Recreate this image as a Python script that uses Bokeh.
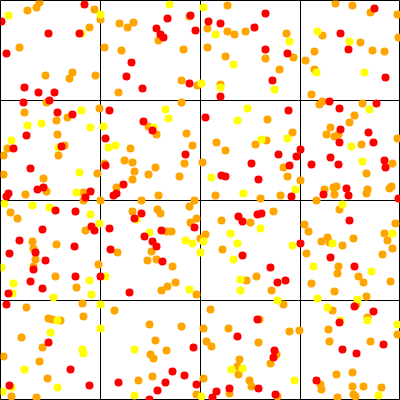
from bokeh.plotting import figure
from bokeh.models import Range1d, FixedTicker
from bokeh.embed import file_html
from bokeh.resources import INLINE

# Point positions (data units 0..400, y downward)
red_x = [1, 84, 48, 79, 6, 24, 38, 54, 49, 23, 57, 72, 26,
         167, 190, 195, 156, 160, 163, 131, 126, 142, 189, 109, 143, 152,
         265, 208, 220, 254, 265, 287, 220, 272, 205, 288,
         374, 340, 348, 385, 329, 339, 376, 340, 368,
         13, 61, 30, 37, 43, 8, 6, 90, 85, 55, 75, 91, 94, 42, 19, 74, 35, 9, 45,
         105, 185, 105, 123, 113, 116, 141, 134, 194, 109, 161, 144, 152, 156, 110, 162,
         300, 278, 296, 251, 289, 221, 225, 258, 291, 238, 242, 257, 261, 242, 270, 300,
         339, 373, 330, 311, 338, 384, 385, 323, 346, 348, 398, 349, 330, 354,
         33, 75, 100, 30, 42, 8, 6, 48, 70, 89, 9,
         129, 193, 172, 184, 165, 196, 118, 157, 149,
         277, 285, 257, 237, 274, 273, 258, 216, 229, 212, 275,
         354, 373, 339, 383, 342, 356, 316]
red_y = [21, 4, 33, 33, 53, 87, 92, 92, 100, 102, 112, 114, 135,
         18, 15, 30, 28, 34, 37, 62, 76, 88, 83, 110, 121, 130,
         13, 21, 23, 27, 49, 53, 96, 80, 117, 110,
         8, 33, 49, 77, 101, 108, 103, 129, 132,
         148, 146, 168, 189, 187, 193, 196, 191, 197, 210, 211, 226, 230, 229, 240, 246, 252, 253, 260,
         138, 154, 165, 184, 195, 193, 213, 218, 227, 228, 230, 236, 241, 246, 249, 261,
         149, 154, 156, 163, 165, 175, 176, 179, 196, 216, 221, 214, 213, 255, 267, 243,
         142, 142, 157, 164, 164, 160, 167, 194, 188, 195, 198, 220, 257, 266,
         269, 276, 276, 281, 288, 293, 304, 342, 369, 385, 385,
         292, 347, 371, 375, 382, 384, 382, 390, 399,
         282, 280, 319, 336, 350, 357, 388, 391, 388, 397, 394,
         306, 311, 322, 344, 349, 353, 380]

orange_x = [39, 36, 27, 94, 100, 89, 19, 45, 72, 69, 95, 46, 24, 56, 67, 99, 57,
            189, 119, 133, 127, 158, 104, 121, 183, 118, 181, 197, 181, 148, 156, 186,
            227, 207, 227, 234, 245, 286, 207, 225, 265, 293, 279, 220, 267, 292,
            335, 352, 370, 397, 322, 360, 398, 314, 305, 372, 384, 314, 311, 322, 319, 362, 354, 349, 330, 326, 338,
            7, 3, 64, 58, 3, 43, 97, 46, 25, 83, 83, 100, 10, 17, 85, 32, 56, 33, 35, 98, 33,
            130, 192, 184, 104, 124, 132, 155, 134, 148, 132, 179, 116, 158, 141, 189, 194, 157, 160, 132,
            196, 190, 166, 171, 200, 151, 117, 147, 156, 172,
            216, 225, 255, 266, 202, 283, 287, 300, 215, 260, 280, 273, 221, 250, 205, 222,
            334, 397, 361, 392, 366, 324, 333, 336, 334, 366, 367, 389, 391, 316, 339, 395, 304, 308, 384,
            387, 392, 321, 327, 329, 342, 353, 306, 382, 338,
            55, 76, 26, 82, 48, 52, 60, 83, 21, 42, 3, 39, 47, 11, 36,
            161, 167, 175, 196, 114, 149, 181, 155, 166, 150, 153, 152, 138, 196,
            246, 256, 271, 283, 210, 259, 203, 228, 289, 299, 206, 211, 258, 276, 270, 239, 237, 238, 203, 249, 251, 229, 277,
            337, 358, 363, 390, 311, 334, 366, 356, 332, 367, 397, 328, 329, 370, 336, 352, 320, 321, 352, 363, 381, 353, 355, 337]
orange_y = [2, 7, 10, 9, 19, 27, 47, 75, 72, 78, 75, 102, 112, 120, 117, 108, 134,
            16, 23, 22, 27, 40, 47, 50, 49, 92, 80, 85, 102, 126, 134, 133,
            5, 28, 31, 34, 31, 33, 47, 56, 58, 57, 69, 84, 119, 132,
            3, 5, 12, 14, 35, 42, 37, 51, 60, 50, 51, 69, 94, 101, 104, 103, 115, 122, 127, 134, 134,
            148, 155, 145, 155, 174, 178, 173, 191, 194, 192, 200, 200, 212, 218, 230, 241, 244, 248, 259, 264, 266,
            148, 145, 163, 163, 160, 162, 167, 171, 174, 179, 176, 187, 195, 200, 206, 200, 209, 213, 211,
            218, 222, 231, 231, 238, 251, 252, 260, 259, 266,
            142, 150, 144, 140, 162, 167, 176, 180, 195, 198, 195, 211, 220, 222, 234, 249,
            136, 138, 144, 163, 173, 189, 187, 186, 194, 193, 189, 188, 186, 200, 209, 223, 224, 231, 233,
            240, 248, 241, 237, 242, 245, 238, 253, 254, 266,
            276, 287, 307, 303, 318, 319, 320, 316, 337, 347, 356, 361, 378, 396, 397,
            290, 286, 282, 294, 310, 324, 326, 340, 350, 354, 358, 376, 380, 394,
            280, 276, 290, 304, 309, 319, 328, 328, 331, 330, 341, 346, 342, 354, 363, 359, 366, 374, 378, 380, 386, 393, 396,
            273, 276, 282, 281, 283, 291, 296, 304, 310, 317, 334, 329, 341, 341, 374, 372, 384, 389, 386, 386, 387, 394, 396, 397]

yellow_x = [8, 100, 81, 81, 27, 41, 90,
            169, 201, 165, 168, 153, 103,
            203, 215, 289, 233, 220, 274, 247, 237,
            317, 349, 316, 364, 369,
            11, 58, 79, 76, 4, 32, 49, 90, 99, 1,
            108, 115, 136, 149, 185, 192, 200,
            261, 287, 211, 295, 243, 260, 230, 203, 237, 233, 292,
            351, 362, 342, 392, 332, 313,
            13, 89, 12, 91, 53, 100, 57, 100, 50, 82, 83, 24, 57, 11, 2,
            105, 189, 134, 134,
            240, 240, 277, 231, 242, 294, 201,
            371, 317, 357, 327, 367, 340, 397, 378]
yellow_y = [15, 14, 33, 110, 125, 123, 127,
            4, 83, 109, 118, 127, 126,
            7, 34, 41, 64, 87, 89, 108, 120,
            31, 41, 72, 72, 109,
            140, 147, 172, 192, 203, 205, 207, 214, 223, 267,
            147, 145, 219, 232, 240, 243, 252,
            139, 138, 177, 189, 193, 228, 233, 241, 243, 259, 245,
            146, 161, 204, 233, 243, 266,
            283, 280, 293, 294, 297, 304, 320, 328, 332, 349, 353, 369, 387, 387, 391,
            276, 289, 349, 395,
            279, 290, 300, 369, 368, 380, 396,
            271, 298, 299, 307, 320, 320, 324, 395]

grid_ticks = [100, 200, 300]

p = figure(width=400, height=400, output_backend="svg", toolbar_location=None,
           x_range=Range1d(0, 400), y_range=Range1d(400, 0), min_border=0)
p.xaxis.visible = False
p.yaxis.visible = False
p.xgrid.ticker = FixedTicker(ticks=grid_ticks)
p.ygrid.ticker = FixedTicker(ticks=grid_ticks)
for g in (p.xgrid, p.ygrid):
    g.grid_line_color = "black"
    g.grid_line_width = 1
p.outline_line_color = "black"
p.background_fill_color = "white"
p.border_fill_color = "white"

p.scatter(orange_x, orange_y, size=8, color="#FFA500", line_color=None)
p.scatter(yellow_x, yellow_y, size=8, color="#FFFF00", line_color=None)
p.scatter(red_x, red_y, size=8, color="#FF0000", line_color=None)

open("out.html", "w").write(file_html(p, INLINE))
